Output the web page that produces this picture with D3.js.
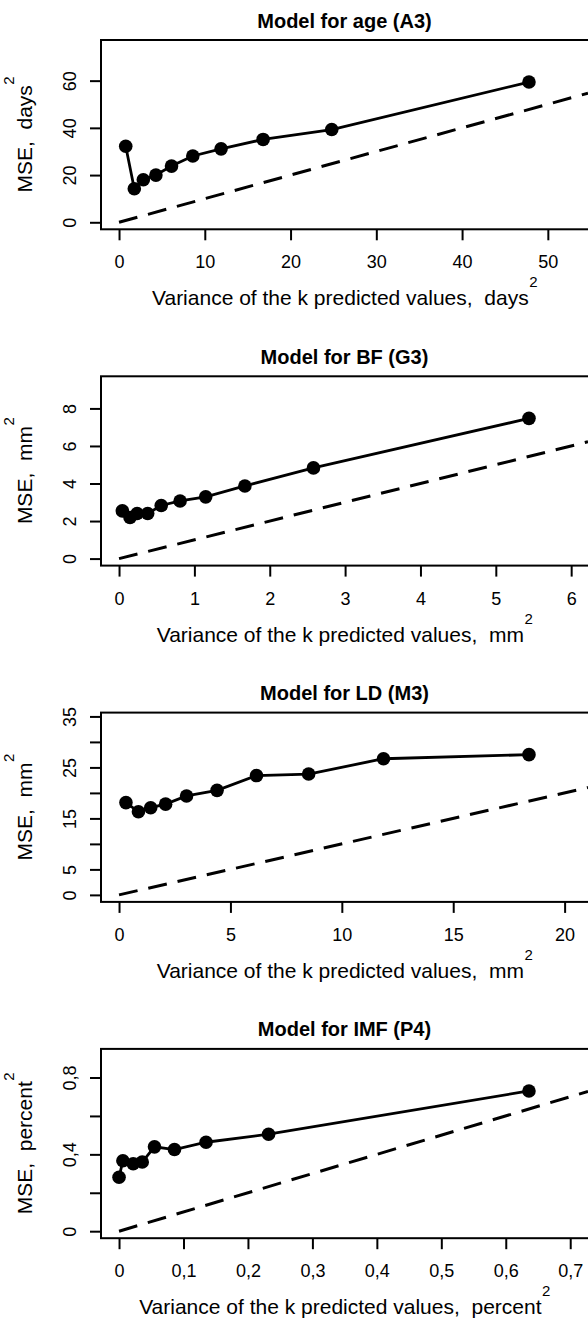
<!DOCTYPE html>
<html>
<head>
<meta charset="utf-8">
<script src="https://cdn.jsdelivr.net/npm/d3@7"></script>
<style>
  body { margin: 0; background: #fff; }
  text { font-family: "Liberation Sans", Arial, sans-serif; fill: #000; }
</style>
</head>
<body>
<svg id="chart" width="588" height="1320"></svg>
<script>
// values
const titles = ["Model for age (A3)", "Model for BF (G3)", "Model for LD (M3)", "Model for IMF (P4)"];
const units = ["days", "mm", "mm", "percent"];

const ageX = [0.78, 1.78, 2.83, 4.3, 6.12, 8.6, 11.9, 16.8, 24.8, 47.8];
const ageY = [32.2, 14.2, 18.0, 20.0, 23.8, 28.1, 31.1, 35.1, 39.3, 59.4];
const bfX = [0.044, 0.146, 0.24, 0.38, 0.56, 0.81, 1.15, 1.67, 2.58, 5.44];
const bfY = [2.54, 2.19, 2.40, 2.40, 2.83, 3.07, 3.29, 3.87, 4.83, 7.47];
const ldX = [0.31, 0.87, 1.42, 2.09, 3.03, 4.40, 6.17, 8.51, 11.87, 18.40];
const ldY = [18.1, 16.3, 17.1, 17.8, 19.4, 20.5, 23.4, 23.7, 26.7, 27.5];
const imfX = [0.0, 0.006, 0.022, 0.036, 0.055, 0.086, 0.135, 0.232, 0.636];
const imfY = [0.281, 0.367, 0.351, 0.360, 0.439, 0.425, 0.463, 0.505, 0.730];

const ageXTicks = [0, 10, 20, 30, 40, 50];
const ageXLabels = ["0", "10", "20", "30", "40", "50"];
const ageYTicks = [0, 20, 40, 60];
const ageYLabels = ["0", "20", "40", "60"];
const bfXTicks = [0, 1, 2, 3, 4, 5, 6];
const bfXLabels = ["0", "1", "2", "3", "4", "5", "6"];
const bfYTicks = [0, 2, 4, 6, 8];
const bfYLabels = ["0", "2", "4", "6", "8"];
const ldXTicks = [0, 5, 10, 15, 20];
const ldXLabels = ["0", "5", "10", "15", "20"];
const ldYTicks = [0, 5, 10, 15, 20, 25, 30, 35];
const ldYLabels = ["0", "5", "", "15", "", "25", "", "35"];
const imfXTicks = [0, 0.1, 0.2, 0.3, 0.4, 0.5, 0.6, 0.7];
const imfXLabels = ["0", "0,1", "0,2", "0,3", "0,4", "0,5", "0,6", "0,7"];
const imfYTicks = [0, 0.2, 0.4, 0.6, 0.8];
const imfYLabels = ["0", "", "0,4", "", "0,8"];

const panels = [
  {xs: ageX, ys: ageY, xt: ageXTicks, xl: ageXLabels, yt: ageYTicks, yl: ageYLabels},
  {xs: bfX, ys: bfY, xt: bfXTicks, xl: bfXLabels, yt: bfYTicks, yl: bfYLabels},
  {xs: ldX, ys: ldY, xt: ldXTicks, xl: ldXLabels, yt: ldYTicks, yl: ldYLabels},
  {xs: imfX, ys: imfY, xt: imfXTicks, xl: imfXLabels, yt: imfYTicks, yl: imfYLabels}
];

const boxL = 101, boxR = 589, boxT = 40, boxH = 189.3, step = 336.3;
const boxB = boxT + boxH;
const midX = (boxL + 588) / 2;

const svg = d3.select("#chart");

// label with a raised "2", centred on 0,0 of the given group
function supLabel(g, str) {
  const main = g.append("text").attr("xml:space", "preserve").style("white-space", "pre")
    .style("font-size", "21px").attr("y", 0).text(str);
  const sup = g.append("text").style("font-size", "15px").attr("y", -18).text("2");
  const l1 = main.node().getComputedTextLength();
  const l2 = sup.node().getComputedTextLength();
  const x0 = -(l1 + l2) / 2;
  main.attr("x", x0);
  sup.attr("x", x0 + l1 + 0.5);
}

panels.forEach(function(p, i) {
  const g = svg.append("g").attr("transform", "translate(0," + (i * step) + ")");

  const rx = 1.1 * d3.max(p.xs);
  const ry = 1.25 * d3.max(p.ys);
  const x = d3.scaleLinear().domain([-0.04 * rx, 1.04 * rx]).range([boxL, 588]);
  const y = d3.scaleLinear().domain([-0.04 * ry, 1.04 * ry]).range([boxB, boxT]);

  g.append("clipPath").attr("id", "clip" + i)
    .append("rect").attr("x", boxL).attr("y", boxT).attr("width", boxR - boxL).attr("height", boxH);

  // x axis
  const xa = g.append("g").attr("transform", "translate(0," + boxB + ")")
    .call(d3.axisBottom(x).tickValues(p.xt).tickSize(11).tickFormat((d, k) => p.xl[k]));
  xa.select(".domain").remove();
  xa.selectAll("line").attr("stroke", "#000").attr("stroke-width", 2);
  xa.selectAll("text").attr("y", 39).attr("dy", null).attr("fill", "#000")
    .style("font-size", "18px").style("font-family", "'Liberation Sans', Arial, sans-serif");

  // y axis
  const ya = g.append("g").attr("transform", "translate(" + boxL + ",0)")
    .call(d3.axisLeft(y).tickValues(p.yt).tickSize(11).tickFormat((d, k) => p.yl[k]));
  ya.select(".domain").remove();
  ya.selectAll("line").attr("stroke", "#000").attr("stroke-width", 2);
  ya.selectAll("text").attr("x", null).attr("dy", null).attr("fill", "#000")
    .attr("text-anchor", "middle").attr("transform", "translate(-25,0) rotate(-90)")
    .style("font-size", "18px").style("font-family", "'Liberation Sans', Arial, sans-serif");

  // box
  g.append("rect").attr("x", boxL).attr("y", boxT).attr("width", boxR - boxL).attr("height", boxH)
    .attr("fill", "none").attr("stroke", "#000").attr("stroke-width", 2);

  // identity line
  const xEnd = x.domain()[1];
  g.append("line")
    .attr("clip-path", "url(#clip" + i + ")")
    .attr("x1", x(0)).attr("y1", y(0)).attr("x2", x(xEnd)).attr("y2", y(xEnd))
    .attr("stroke", "#000").attr("stroke-width", 3).attr("stroke-dasharray", "19,11");

  // MSE line and points
  const pts = p.xs.map((v, k) => ({x: v, y: p.ys[k]}));
  g.append("path").datum(pts)
    .attr("d", d3.line().x(d => x(d.x)).y(d => y(d.y)))
    .attr("fill", "none").attr("stroke", "#000").attr("stroke-width", 2.8);
  g.selectAll("circle").data(pts).join("circle")
    .attr("cx", d => x(d.x)).attr("cy", d => y(d.y)).attr("r", 6.8).attr("fill", "#000");

  // title
  g.append("text").attr("x", midX).attr("y", 27.5).attr("text-anchor", "middle")
    .style("font-size", "20px").style("font-weight", "bold").text(titles[i]);

  // x label
  supLabel(g.append("g").attr("transform", "translate(" + midX + "," + (boxB + 76) + ")"),
    "Variance of the k predicted values,  " + units[i]);

  // y label
  supLabel(g.append("g").attr("transform", "translate(31.5," + ((boxT + boxB) / 2) + ") rotate(-90)"),
    "MSE,  " + units[i]);
});
</script>
</body>
</html>
